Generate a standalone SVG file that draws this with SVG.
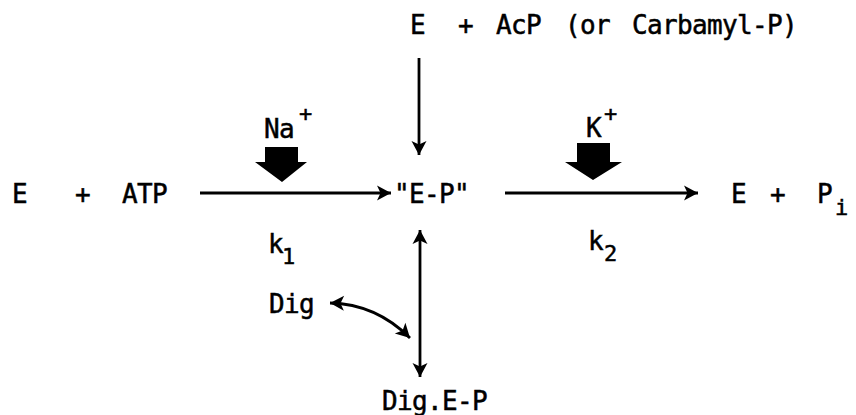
<svg xmlns="http://www.w3.org/2000/svg" width="856" height="415" viewBox="0 0 856 415">
<defs>
<style>
.t{font-family:"DejaVu Sans Mono","Liberation Mono",monospace;font-size:26px;letter-spacing:-0.65px;fill:#000;stroke:#000;stroke-width:0.5px}
.s{font-size:22px;letter-spacing:0}
.ln{stroke:#000;stroke-width:2.8;fill:none}
.blk{fill:#000}
</style>
<marker id="ah" viewBox="-1 -9 17 18" refX="14" refY="0" markerWidth="17" markerHeight="18" markerUnits="userSpaceOnUse" orient="auto-start-reverse">
<path d="M0,-7.5 L14,0 L0,7.5 L3.5,0 Z" fill="#000"/>
</marker>
</defs>
<rect width="856" height="415" fill="#fff"/>
<g id="connectors">
<line class="ln" x1="200" y1="193" x2="391" y2="193" marker-end="url(#ah)"/>
<line class="ln" x1="505" y1="193" x2="698" y2="193" marker-end="url(#ah)"/>
<line class="ln" x1="419" y1="58" x2="419" y2="155" marker-end="url(#ah)"/>
<line class="ln" x1="420" y1="230" x2="420" y2="377" marker-start="url(#ah)" marker-end="url(#ah)"/>
<path class="ln" d="M330,303 Q376,304 410,338" marker-start="url(#ah)" marker-end="url(#ah)"/>
</g>
<g id="node-e-atp"><text class="t"><tspan x="12" y="203">E</tspan> <tspan x="75" y="203">+</tspan> <tspan x="122" y="203">ATP</tspan></text></g>
<g id="node-ep"><text class="t" x="394" y="203">"E-P"</text></g>
<g id="node-e-pi"><text class="t"><tspan x="731" y="203">E</tspan> <tspan x="770" y="203">+</tspan> <tspan x="817" y="203">P</tspan><tspan class="s" x="835" y="215">i</tspan></text></g>
<g id="node-e-acp"><text class="t"><tspan x="410" y="34">E</tspan> <tspan x="458" y="34">+</tspan> <tspan x="496" y="34">AcP</tspan> <tspan x="565" y="34">(or</tspan> <tspan x="632" y="34">Carbamyl-P)</tspan></text></g>
<g id="node-na"><text class="t"><tspan x="264" y="138">Na</tspan><tspan class="s" x="299" y="121">+</tspan></text>
<path class="blk" d="M265,147 H298 V162 H307 L282,182 L255,162 H265 Z"/></g>
<g id="node-k"><text class="t"><tspan x="586" y="137">K</tspan><tspan class="s" x="604" y="121">+</tspan></text>
<path class="blk" d="M577,143 H610 V162 H622 L593,180 L565,162 H577 Z"/></g>
<g id="label-k1"><text class="t"><tspan x="268" y="253">k</tspan><tspan class="s" x="282" y="264">1</tspan></text></g>
<g id="label-k2"><text class="t"><tspan x="588" y="250">k</tspan><tspan class="s" x="604" y="261">2</tspan></text></g>
<g id="node-dig"><text class="t" x="269" y="313">Dig</text></g>
<g id="node-digep"><text class="t" x="382" y="410">Dig.E-P</text></g>
</svg>
